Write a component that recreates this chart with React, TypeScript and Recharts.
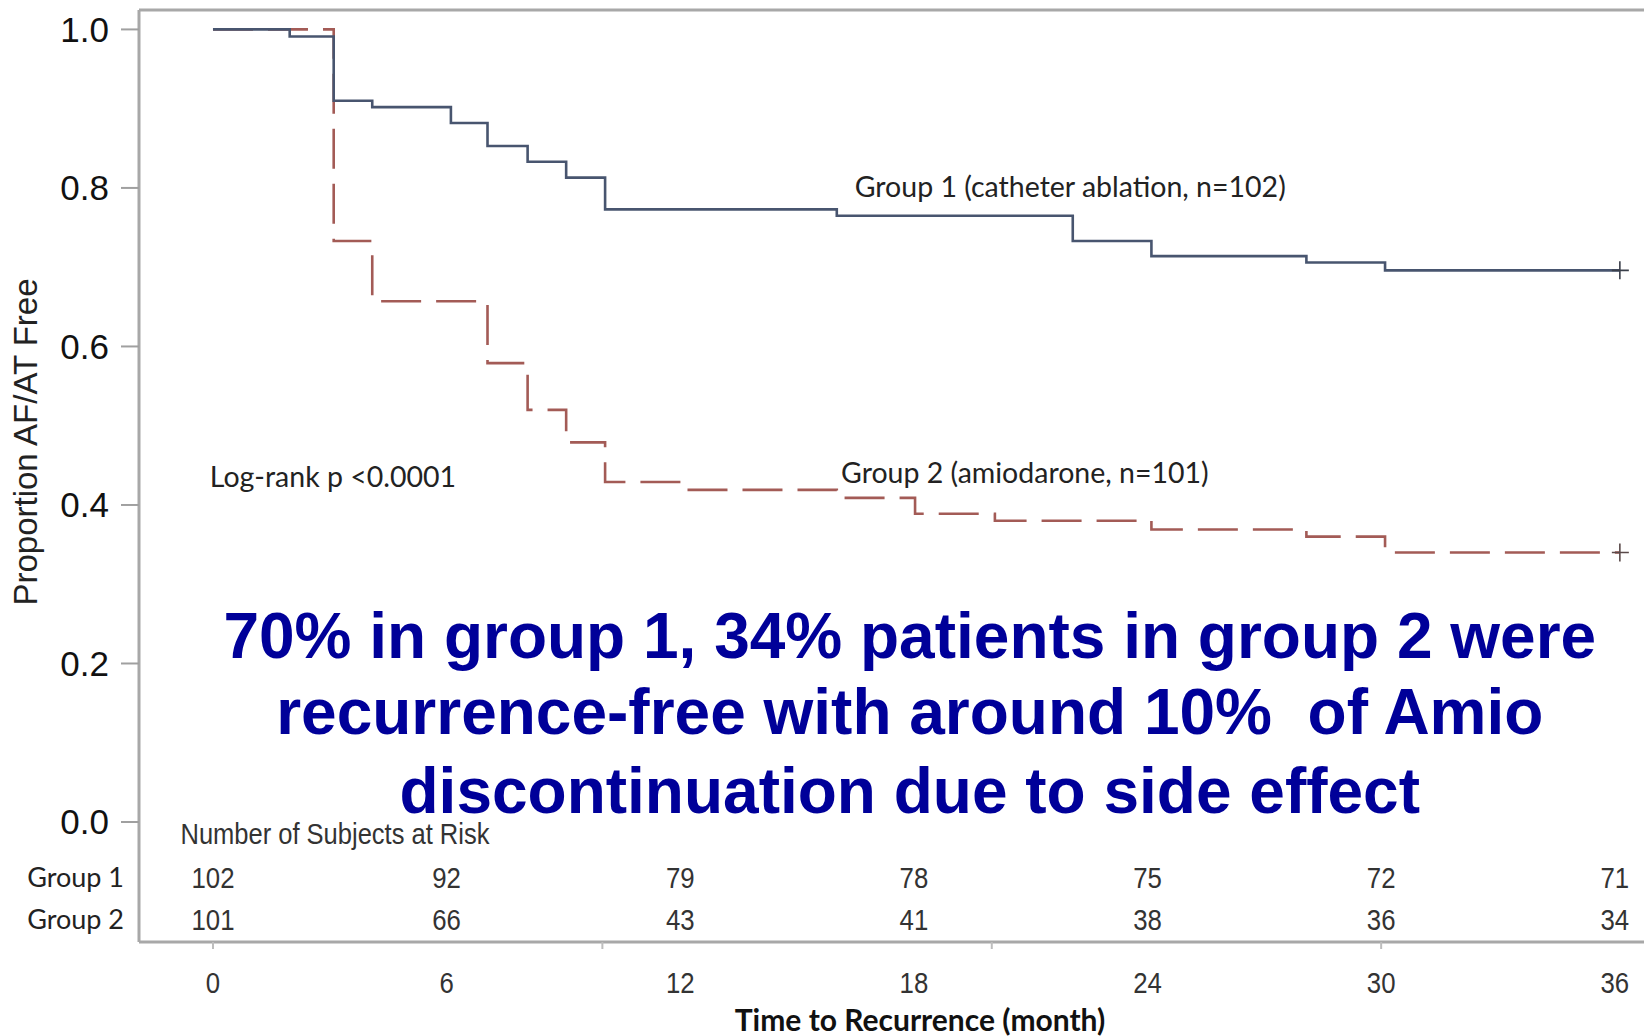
import React from 'react';
import { ComposedChart, Line, XAxis, YAxis, ReferenceLine, ReferenceDot } from 'recharts';

// Kaplan-Meier steps (months, proportion free)
const group1Times = [0, 1.97, 3.1, 4.09, 6.11, 7.05, 8.08, 9.07, 10.07, 16.02, 22.08, 24.1, 28.08, 30.1, 36.13];
const group1Surv = [1.0, 0.991, 0.91, 0.902, 0.882, 0.853, 0.833, 0.813, 0.773, 0.765, 0.733, 0.714, 0.706, 0.696, 0.696];
const group2Times = [0, 3.1, 4.09, 7.05, 8.08, 9.07, 10.07, 12.1, 16.02, 18.03, 20.08, 24.1, 28.08, 30.1, 36.13];
const group2Surv = [1.0, 0.733, 0.657, 0.579, 0.52, 0.479, 0.429, 0.419, 0.409, 0.389, 0.38, 0.369, 0.36, 0.34, 0.34];

// number at risk table
const riskTimes = [0, 6, 12, 18, 24, 30, 36];
const riskGroup1 = [102, 92, 79, 78, 75, 72, 71];
const riskGroup2 = [101, 66, 43, 41, 38, 36, 34];
const riskLabels = ['Group 1', 'Group 2'];

const yTicks = [0, 0.2, 0.4, 0.6, 0.8, 1.0];
const axisTickMarks = [0, 10, 20, 30];
const summaryLines = [
    '70% in group 1, 34% patients in group 2 were',
    'recurrence-free with around 10%  of Amio',
    'discontinuation due to side effect',
];

const X_DOMAIN: [number, number] = [-1.9, 36.75];
const Y_DOMAIN: [number, number] = [-0.1514, 1.0245];
const RISK_ROW_Y = [-0.0702, -0.123];
const SUMMARY_Y = [0.2069, 0.111, 0.0119];

const BLUE = '#48556f';
const RED = '#a35b56';
const FRAME = '#a8a8a8';

const toRows = (t: number[], s: number[]) => t.map((v, i) => ({ t: v, s: s[i] }));
const group1Data = toRows(group1Times, group1Surv);
const group2Data = toRows(group2Times, group2Surv);
const bottomTicks = Array.from(new Set([...axisTickMarks, ...riskTimes])).sort((a, b) => a - b);

const calibri: React.CSSProperties = { fontFamily: 'Lato, "Open Sans", sans-serif', fontSize: 28.5, fill: '#222' };
const narrow: React.CSSProperties = { fontFamily: '"Liberation Sans Narrow", "Liberation Sans", Arial, sans-serif', fontSize: 30, fill: '#333' };

const censorDot = (color: string, last: number) => (p: any) => {
    if (p.index !== last) return <g key={`d-${p.index}`} />;
    return (
        <path
            key={`d-${p.index}`}
            d={`M${p.cx - 8},${p.cy}H${p.cx + 9}M${p.cx},${p.cy - 9}V${p.cy + 9}`}
            stroke={color}
            strokeWidth={1.6}
            fill="none"
        />
    );
};

// bottom axis: tick marks every 10 months, labels every 6 months (under the risk table)
const BottomTick = (props: any) => {
    const { x, y, payload } = props;
    const v = payload.value;
    return (
        <g>
            {v % 10 === 0 && <line x1={x} x2={x} y1={y} y2={y + 7} stroke="#bdbdbd" strokeWidth={2} />}
            {v % 6 === 0 && (
                <text transform={`translate(${x},${y + 40}) scale(0.86,1)`} textAnchor="middle" dy="0.36em" style={narrow}>
                    {v}
                </text>
            )}
        </g>
    );
};

const note = (
    key: string,
    x: number,
    y: number,
    text: string,
    style: React.CSSProperties,
    anchor: 'start' | 'middle' | 'end' = 'start',
    dy = '0.35em',
    sx = 1,
    dx = 0,
) => (
    <ReferenceDot
        key={key}
        xAxisId="main"
        x={x}
        y={y}
        r={0}
        fill="none"
        stroke="none"
        label={(p: any) => (
            <text
                transform={`translate(${p.viewBox.x + dx},${p.viewBox.y}) scale(${sx},1)`}
                textAnchor={anchor}
                dy={dy}
                style={{ whiteSpace: 'pre', ...style }}
            >
                {text}
            </text>
        )}
    />
);

export default function App() {
    return (
        <div style={{ position: 'absolute', left: 0, top: 0, width: 1644, height: 1036, background: '#fff', overflow: 'hidden' }}>
            <ComposedChart width={1644} height={1036} margin={{ top: 10, right: 0, bottom: 0, left: 0 }}>
                <XAxis
                    xAxisId="main"
                    type="number"
                    dataKey="t"
                    domain={X_DOMAIN}
                    allowDataOverflow
                    ticks={bottomTicks}
                    interval={0}
                    tick={<BottomTick />}
                    tickSize={0}
                    tickMargin={0}
                    tickLine={false}
                    axisLine={{ stroke: FRAME, strokeWidth: 3 }}
                    height={94}
                    label={() => (
                        <text x={920} y={1020} dy="0.35em" textAnchor="middle"
                            style={{ fontFamily: 'Lato, "Open Sans", sans-serif', fontWeight: 700, fontSize: 30, fill: '#111' }}>
                            Time to Recurrence (month)
                        </text>
                    )}
                />
                <YAxis
                    type="number"
                    domain={Y_DOMAIN}
                    allowDataOverflow
                    ticks={yTicks}
                    interval={0}
                    tickFormatter={(v: number) => v.toFixed(1)}
                    tick={{ fontFamily: '"Liberation Sans", Arial, sans-serif', fontSize: 35, fill: '#111' }}
                    tickSize={18}
                    tickMargin={12}
                    tickLine={{ stroke: '#a0a0a0', strokeWidth: 2 }}
                    axisLine={{ stroke: FRAME, strokeWidth: 3 }}
                    width={139}
                    label={() => (
                        <text transform="translate(37,442) rotate(-90)" textAnchor="middle"
                            style={{ fontFamily: '"Liberation Sans", Arial, sans-serif', fontSize: 33, fill: '#222' }}>
                            Proportion AF/AT Free
                        </text>
                    )}
                />
                <ReferenceLine xAxisId="main" y={Y_DOMAIN[1]} stroke={FRAME} strokeWidth={3} />

                <Line
                    xAxisId="main"
                    data={group2Data}
                    dataKey="s"
                    type="stepAfter"
                    stroke={RED}
                    strokeWidth={2.6}
                    strokeDasharray="40 15"
                    dot={censorDot('#5a4a4a', group2Data.length - 1)}
                    activeDot={false}
                    isAnimationActive={false}
                />
                <Line
                    xAxisId="main"
                    data={group1Data}
                    dataKey="s"
                    type="stepAfter"
                    stroke={BLUE}
                    strokeWidth={2.6}
                    dot={censorDot('#3a3f4a', group1Data.length - 1)}
                    activeDot={false}
                    isAnimationActive={false}
                />

                {note('g1', 16.48, 0.8017, 'Group 1 (catheter ablation, n=102)', calibri)}
                {note('g2', 16.13, 0.4403, 'Group 2 (amiodarone, n=101)', calibri)}
                {note('lr', -0.08, 0.435, 'Log-rank p <0.0001', calibri)}
                {note('hdr', -0.835, -0.0146, 'Number of Subjects at Risk', { ...narrow, fontSize: 29 }, 'start', '0.36em', 0.88)}

                {summaryLines.map((line, i) =>
                    note(`sum-${i}`, 17.894, SUMMARY_Y[i], line,
                        { fontFamily: '"Liberation Sans", Arial, sans-serif', fontWeight: 700, fontSize: 64, fill: '#000099' },
                        'middle', '0'),
                )}

                {riskLabels.map((lab, r) =>
                    note(`rl-${r}`, X_DOMAIN[0], RISK_ROW_Y[r], lab, { ...calibri, fontSize: 27 }, 'end', '0.35em', 1, -15),
                )}
                {riskTimes.map((t, i) => note(`r1-${i}`, t, RISK_ROW_Y[0], String(riskGroup1[i]), narrow, 'middle', '0.36em', 0.86))}
                {riskTimes.map((t, i) => note(`r2-${i}`, t, RISK_ROW_Y[1], String(riskGroup2[i]), narrow, 'middle', '0.36em', 0.86))}
            </ComposedChart>
        </div>
    );
}
